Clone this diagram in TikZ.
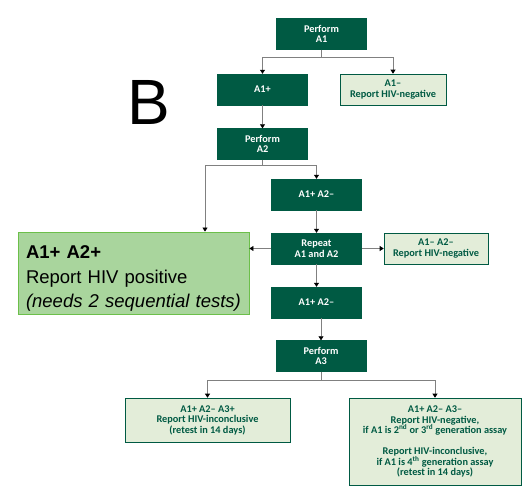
\documentclass[tikz,border=0pt]{standalone}
\usepackage{fontspec}
\setmainfont{Liberation Sans}
\newfontfamily\boxfont{Carlito}
\usetikzlibrary{arrows.meta,calc}

\definecolor{dkgreen}{HTML}{005A43}
\definecolor{ltfill}{HTML}{E3EDD9}
\definecolor{posfill}{HTML}{A9D59D}
\definecolor{posedge}{HTML}{6CBF4A}
\definecolor{lngray}{HTML}{808080}

\begin{document}
\begin{tikzpicture}[
  x=1pt, y=-1pt,
  font=\boxfont\bfseries\fontsize{10.3}{10.5}\selectfont,
  dark/.style={fill=dkgreen, draw=dkgreen, text=white, align=center,
               inner sep=0pt, minimum width=90pt, minimum height=31pt},
  light/.style={fill=ltfill, draw=dkgreen, semithick, text=dkgreen,
                align=center, inner sep=0pt, minimum height=31pt},
  ln/.style={draw=lngray, semithick},
  ar/.style={ln, -{Triangle[length=4pt, width=5pt, fill=black, color=black]}}
]
\useasboundingbox (0,0) rectangle (530,498);

\node[font=\fontsize{64}{64}\selectfont] (lblb) at (148.5,102) {B};

\node[dark] (pa1) at (321.5,34) {Perform\\A1};
\node[dark] (a1pos) at (262.5,89.5) {A1+};
\node[light, minimum width=106pt] (a1neg) at (393,89.5)
     {A1–\\Report HIV-negative};
\node[dark] (pa2) at (262.5,144) {Perform\\A2};
\node[dark] (a2neg) at (316.5,194.5) {A1+ A2–};
\node[fill=posfill, draw=posedge, thick, align=left, inner sep=0pt,
      minimum width=231pt, minimum height=82pt, text width=215pt,
      font=\fontsize{18.5}{24.5}\selectfont] (pos) at (133.5,273)
     {\rule{0pt}{24pt}\textbf{A1+ A2+}\\Report HIV positive\\\textit{(needs 2 sequential tests)}};
\node[dark] (rep) at (316.5,248.5) {Repeat\\A1 and A2};
\node[light, minimum width=104pt] (a12neg) at (436,248.5)
     {A1– A2–\\Report HIV-negative};
\node[dark] (a2neg2) at (316.5,302.5) {A1+ A2–};
\node[dark] (pa3) at (321,356) {Perform\\A3};
\node[light, minimum width=165pt, minimum height=44pt] (a3pos) at (207.5,420)
     {A1+ A2– A3+\\Report HIV-inconclusive\\(retest in 14 days)};
\node[light, minimum width=172pt, minimum height=87pt] (a3neg) at (435,441.5)
     {A1+ A2– A3–\\Report HIV-negative,\\
      if A1 is 2\textsuperscript{nd} or 3\textsuperscript{rd} generation assay\\[10.5pt]
      Report HIV-inconclusive,\\
      if A1 is 4\textsuperscript{th} generation assay\\(retest in 14 days)};

% splits
\coordinate (s1) at (321.5,57);
\coordinate (s2) at (262.5,165);
\coordinate (s3) at (321,380);

\draw[ln] (pa1) -- (s1);
\draw[ar] (s1) -| (a1pos);
\draw[ar] (s1) -| (a1neg);
\draw[ar] (a1pos) -- (pa2);
\draw[ln] (pa2) -- (s2);
\draw[ar] (s2) -| (a2neg);
\draw[ar] (s2) -| ([xshift=71.5pt]pos.north);
\draw[ar] (a2neg) -- (rep);
\draw[ar] (rep.west) -- (rep.west -| pos.east);
\draw[ar] (rep) -- (a12neg);
\draw[ar] (rep) -- (a2neg2);
\draw[ar] (pa3.north |- a2neg2.south) -- (pa3);
\draw[ln] (pa3) -- (s3);
\draw[ar] (s3) -| (a3pos);
\draw[ar] (s3) -| (a3neg);
\end{tikzpicture}
\end{document}
